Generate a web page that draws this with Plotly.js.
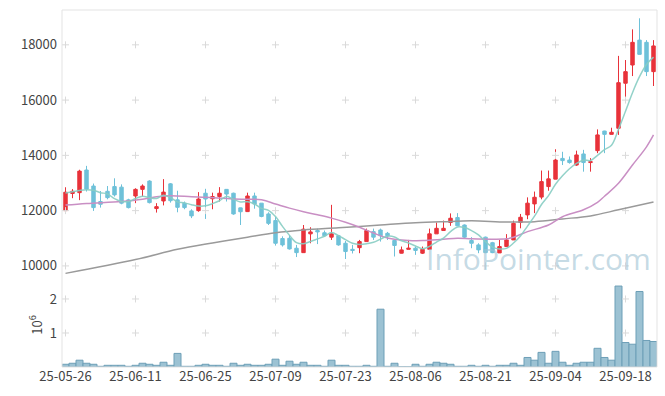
<!DOCTYPE html>
<html><head><meta charset="utf-8">
<script src="https://cdn.plot.ly/plotly-3.0.1.min.js"></script>
<style>html,body{margin:0;padding:0;background:#fff}#chart{width:665px;height:396px}</style>
</head><body><div id="chart"></div>
<script>
const dates = ["25-05-26","25-05-27","25-05-28","25-05-29","25-05-30","25-06-02","25-06-04","25-06-05","25-06-09","25-06-10",
"25-06-11","25-06-12","25-06-13","25-06-16","25-06-17","25-06-18","25-06-19","25-06-20","25-06-23","25-06-24",
"25-06-25","25-06-26","25-06-27","25-06-30","25-07-01","25-07-02","25-07-03","25-07-04","25-07-07","25-07-08",
"25-07-09","25-07-10","25-07-11","25-07-14","25-07-15","25-07-16","25-07-17","25-07-18","25-07-21","25-07-22",
"25-07-23","25-07-24","25-07-25","25-07-28","25-07-29","25-07-30","25-07-31","25-08-01","25-08-04","25-08-05",
"25-08-06","25-08-07","25-08-08","25-08-11","25-08-12","25-08-13","25-08-14","25-08-18","25-08-19","25-08-20",
"25-08-21","25-08-22","25-08-25","25-08-26","25-08-27","25-08-28","25-08-29","25-09-01","25-09-02","25-09-03",
"25-09-04","25-09-05","25-09-08","25-09-09","25-09-10","25-09-11","25-09-12","25-09-15","25-09-16","25-09-17",
"25-09-18","25-09-19","25-09-22","25-09-23","25-09-24"];

const openP = [12000,12620,12650,13470,12890,12330,12700,12870,12850,12390,
12530,12770,13070,12075,12350,12970,12390,12270,11990,12000,
12630,12430,12510,12770,12630,12100,11965,12530,12270,11880,
11640,10990,11000,10640,10480,11160,11280,11200,11040,11090,
10820,10600,10660,10880,11240,11300,11180,10920,10460,10600,
10640,10460,10600,11160,11280,11570,11750,11480,10920,10760,
11040,10840,10470,10700,10940,11570,11845,12243,12490,12870,
13140,13890,13830,13650,14050,13740,14170,14880,14760,14980,
16610,17270,18170,18090,17030];
const highP = [12846,12780,13480,13620,12980,12710,12890,13170,12950,12430,
12810,12950,13100,12270,13140,13000,12720,12330,12050,12670,
12790,12650,12850,12780,12650,12110,12650,12650,12270,11940,
11780,11070,11120,10760,11480,11400,11350,11280,12210,11120,
10900,10760,10940,11350,11350,11350,11230,10920,10700,10940,
10700,10700,11350,11570,11640,11900,11910,11500,11040,10820,
11060,10870,10940,11150,11640,11880,12480,12690,13450,13450,
14220,14130,13960,14170,14200,13900,14940,14890,15000,17600,
17450,18560,18960,18170,18170];
const lowP = [11965,12450,12380,12690,11990,12110,12410,12510,12230,12080,
12270,12510,12260,11930,12190,12290,11940,12050,11730,11960,
11700,12050,12330,12330,11850,11480,11950,12070,11760,11480,
10735,10700,10590,10320,10480,10820,10790,11060,10940,10730,
10250,10450,10460,10880,10940,10880,10940,10340,10450,10600,
10400,10430,10580,11157,11280,11450,11440,11000,10640,10460,
10460,10460,10480,10700,10940,11360,11690,11910,12410,12720,
13136,13650,13700,13620,13410,13410,14080,14080,14760,14740,
16070,16870,17650,16870,16510];
const closeP = [12666,12700,13430,12780,12110,12230,12470,12570,12270,12110,
12770,12890,12290,12145,12670,12360,12120,12110,11810,12420,
12420,12510,12630,12600,11880,11960,12530,12240,11790,11540,
10820,10760,10615,10480,11330,11230,11230,11090,11160,10760,
10520,10560,10880,11280,11040,11090,11090,10740,10580,10640,
10560,10600,11160,11360,11360,11725,11450,11040,10820,10580,
10480,10480,10700,10940,11540,11760,12270,12484,13050,13150,
13830,13810,13740,14015,13740,13770,14740,14760,14835,16630,
17030,18090,17655,17030,17960];

// volume in millions
const volume = [0.08,0.11,0.20,0.11,0.08,0.02,0.05,0.05,0.05,0.02,
0.05,0.11,0.08,0.05,0.14,0.05,0.40,0.02,0.02,0.05,
0.08,0.05,0.05,0.02,0.11,0.05,0.08,0.05,0.05,0.08,
0.23,0.05,0.17,0.08,0.14,0.05,0.05,0.02,0.20,0.05,
0.05,0.02,0.02,0.05,0.02,1.70,0.02,0.11,0.005,0.005,
0.08,0.02,0.08,0.14,0.11,0.08,0.02,0.02,0.05,0.02,
0.05,0.02,0.05,0.05,0.11,0.05,0.28,0.20,0.43,0.11,
0.46,0.14,0.05,0.11,0.14,0.14,0.55,0.28,0.20,2.38,
0.72,0.67,2.22,0.78,0.75];

const ma5 = [12640,12680,12730,12760,12737,12650,12604,12432,12330,12330,
12438,12522,12466,12441,12553,12471,12317,12281,12214,12164,
12176,12254,12358,12516,12408,12316,12320,12242,12080,12012,
11784,11430,11105,10843,10801,10883,10977,11072,11208,11094,
10952,10818,10776,10800,10856,10970,11076,11048,10908,10828,
10722,10624,10708,10864,11008,11241,11411,11387,11279,11123,
10874,10680,10612,10636,10828,11084,11442,11799,12221,12543,
12957,13265,13516,13709,13827,13815,14001,14205,14369,14947,
15599,16269,16848,17287,17553];

const ma20Idx = [0,3,8,11,13,15,18,20,24,28,30,32,34,36,38,40,42,44,46,49,51,54,56,58,61,63,64,66,69,71,74,76,77,79,81,83,84];
const ma20Val = [12200,12260,12330,12410,12500,12540,12500,12480,12420,12390,12240,12090,11960,11850,11730,11580,11400,11190,11010,10920,10915,10965,11000,10980,10966,10980,11040,11240,11480,11780,12030,12300,12520,12990,13650,14310,14740];

const ma120Idx = [0,10,16,21,26,30,34,39,45,50,54,58,63,67,71,75,79,84];
const ma120Val = [9730,10230,10600,10830,11040,11200,11300,11380,11480,11560,11600,11630,11590,11600,11700,11810,12030,12315];

const priceTicks = [10000,12000,14000,16000,18000];
const priceTickText = ["10000","12000","14000","16000","18000"];
const volTicks = [1,2];
const xTickIdx = [0,10,20,30,40,50,60,70,80];

const xTicks = xTickIdx.map(i => dates[i]);
const crossPX = [], crossPY = [], crossVX = [], crossVY = [];
xTicks.forEach(x => { priceTicks.forEach(y => { crossPX.push(x); crossPY.push(y); });
                      volTicks.forEach(y => { crossVX.push(x); crossVY.push(y); }); });

const red = '#e8323a', blue = '#6ec1d9';
const crossMarker = {symbol:'cross-thin', size:5, line:{color:'#dadada', width:1}};
const traces = [
  {type:'scatter', mode:'markers', x:crossPX, y:crossPY, xaxis:'x', yaxis:'y',
   marker:crossMarker, hoverinfo:'skip', showlegend:false},
  {type:'scatter', mode:'markers', x:crossVX, y:crossVY, xaxis:'x', yaxis:'y2',
   marker:crossMarker, hoverinfo:'skip', showlegend:false},
  {type:'scatter', mode:'lines', x:ma120Idx.map(i=>dates[i]), y:ma120Val, xaxis:'x', yaxis:'y',
   line:{color:'#9a9a9a', width:1.5, shape:'spline'}, hoverinfo:'skip', showlegend:false},
  {type:'scatter', mode:'lines', x:ma20Idx.map(i=>dates[i]), y:ma20Val, xaxis:'x', yaxis:'y',
   line:{color:'#c98fc4', width:1.5, shape:'spline'}, hoverinfo:'skip', showlegend:false},
  {type:'candlestick', x:dates, open:openP, high:highP, low:lowP, close:closeP, xaxis:'x', yaxis:'y',
   increasing:{line:{color:red, width:1}, fillcolor:red},
   decreasing:{line:{color:blue, width:1}, fillcolor:blue},
   hoverinfo:'skip', showlegend:false},
  {type:'scatter', mode:'lines', x:dates, y:ma5, xaxis:'x', yaxis:'y',
   line:{color:'rgba(135,205,195,0.9)', width:1.5, shape:'spline'}, hoverinfo:'skip', showlegend:false},
  {type:'bar', x:dates, y:volume, xaxis:'x', yaxis:'y2',
   marker:{color:'#9cc2d3', line:{color:'#6d9fb7', width:1}}, hoverinfo:'skip', showlegend:false}
];

const font = {family:'"Noto Sans CJK KR", "Noto Sans", sans-serif', size:13, color:'#444'};
const layout = {
  width:665, height:396,
  margin:{l:62, r:8, t:10, b:29},
  paper_bgcolor:'#fff', plot_bgcolor:'#fff',
  font:font, showlegend:false, bargap:0,
  xaxis:{type:'category', categoryorder:'array', categoryarray:dates, range:[-0.5, 84.5],
    anchor:'y2', tickmode:'array', tickvals:xTicks, ticktext:xTicks, ticks:'', showgrid:false,
    zeroline:false, showline:false, rangeslider:{visible:false}, tickfont:font, fixedrange:true},
  yaxis:{domain:[0.244,1], range:[9494,19260], tickmode:'array', tickvals:priceTicks, ticktext:priceTickText,
    ticks:'', ticklabelstandoff:4, showgrid:false, zeroline:false, showline:false, tickfont:font},
  yaxis2:{domain:[0,0.2353], range:[0,2.47], tickmode:'array', tickvals:volTicks, ticktext:["1","2"],
    ticks:'', ticklabelstandoff:4, showgrid:false, zeroline:false, showline:false, tickfont:font,
    title:{text:'10<sup>6</sup>', font:font, standoff:4}},
  shapes:[{type:'rect', xref:'paper', yref:'paper', x0:0, x1:1, y0:0, y1:1,
    line:{color:'#e3e3e3', width:1}, fillcolor:'rgba(0,0,0,0)', layer:'above'}],
  annotations:[{text:'InfoPointer.com', xref:'paper', yref:'paper', x:0.8, y:0.305,
    showarrow:false, xanchor:'center', yanchor:'middle',
    font:{family:'"Open Sans", sans-serif', size:30, color:'rgba(160,195,212,0.62)'}}]
};
Plotly.newPlot('chart', traces, layout, {displayModeBar:false, staticPlot:true});
</script></body></html>
